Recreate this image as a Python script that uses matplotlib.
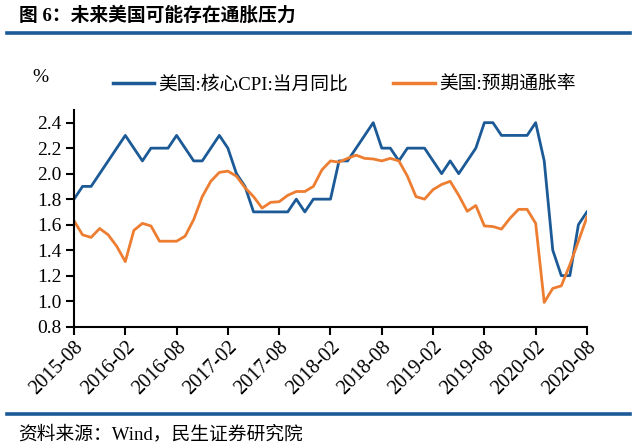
import matplotlib
matplotlib.use("Agg")
import matplotlib.pyplot as plt
from matplotlib.lines import Line2D
import pandas as pd

plt.rcParams['font.family'] = ['Liberation Serif', 'Noto Sans CJK SC', 'DejaVu Sans']

months = [p.strftime('%Y-%m') for p in pd.period_range('2015-08', '2020-08', freq='M')]

core_cpi = [1.8, 1.9, 1.9, 2.0, 2.1,
            2.2, 2.3, 2.2, 2.1, 2.2, 2.2, 2.2, 2.3, 2.2, 2.1, 2.1, 2.2,
            2.3, 2.2, 2.0, 1.9, 1.7, 1.7, 1.7, 1.7, 1.7, 1.8, 1.7, 1.8,
            1.8, 1.8, 2.1, 2.1, 2.2, 2.3, 2.4, 2.2, 2.2, 2.1, 2.2, 2.2,
            2.2, 2.1, 2.0, 2.1, 2.0, 2.1, 2.2, 2.4, 2.4, 2.3, 2.3, 2.3,
            2.3, 2.4, 2.1, 1.4, 1.2, 1.2, 1.6, 1.7]

expected_infl = [1.63, 1.52, 1.50, 1.57, 1.52, 1.43, 1.31, 1.555, 1.61, 1.59,
                 1.47, 1.47, 1.47, 1.51, 1.64, 1.82, 1.94, 2.01, 2.02, 1.98,
                 1.89, 1.82, 1.73, 1.775, 1.78, 1.83, 1.86, 1.86, 1.90, 2.03,
                 2.10, 2.09, 2.12, 2.145, 2.12, 2.115, 2.10, 2.12, 2.10, 1.98,
                 1.82, 1.80, 1.875, 1.915, 1.94, 1.83, 1.705, 1.75, 1.59, 1.585,
                 1.565, 1.65, 1.72, 1.72, 1.61, 0.99, 1.10, 1.12, 1.285, 1.47,
                 1.66]

series_names = ['美国:核心CPI:当月同比', '美国:预期通胀率']
tick_labels = months[::6]
y_ticks = [0.8, 1.0, 1.2, 1.4, 1.6, 1.8, 2.0, 2.2, 2.4]

BLUE = '#1B5A96'
ORANGE = '#ED7D31'
CJK = ['Liberation Serif', 'Noto Sans CJK SC']

fig = plt.figure(figsize=(6.38, 4.45), dpi=100)
ax = fig.add_axes([0.116, 0.266, 0.804, 0.487])

x = list(range(len(months)))
l1, = ax.plot(x, core_cpi, color=BLUE, lw=2.0)
l2, = ax.plot(x, expected_infl, color=ORANGE, lw=2.0)

ax.set_xlim(0, len(months) - 1)
ax.set_ylim(0.8, 2.5)
ax.set_yticks(y_ticks)
ax.set_yticklabels([f'{v:.1f}' for v in y_ticks])
ax.set_xticks(x[::6])
ax.set_xticklabels(tick_labels, rotation=45, ha='right', rotation_mode='anchor')

for s in ['top', 'right']:
    ax.spines[s].set_visible(False)
for s in ['left', 'bottom']:
    ax.spines[s].set_linewidth(1.5)
    ax.spines[s].set_color('black')
ax.tick_params(direction='out', length=6, width=1.5, labelsize=14, pad=3)
ax.tick_params(axis='x', labelsize=14.5, pad=2)

leg = fig.legend([l1, l2], series_names, loc='center left',
                 bbox_to_anchor=(0.150, 0.809), ncol=2, frameon=False,
                 handlelength=2.2, handletextpad=0.25, columnspacing=2.4,
                 prop={'family': CJK, 'size': 13.5})
for h in leg.legend_handles:
    h.set_linewidth(2.5)

fig.text(0.063, 0.825, '%', fontsize=14, ha='center', va='center')

fig.text(0.03, 0.965, '图 6：未来美国可能存在通胀压力', fontsize=13.5, fontweight='bold',
         ha='left', va='center', family=CJK)
fig.add_artist(Line2D([0.011, 0.987], [0.926, 0.926], transform=fig.transFigure,
                      color=BLUE, lw=2.6))
fig.add_artist(Line2D([0.011, 0.987], [0.070, 0.070], transform=fig.transFigure,
                      color=BLUE, lw=2.6))
fig.text(0.028, 0.025, '资料来源：Wind，民生证券研究院', fontsize=13.5,
         ha='left', va='center', family=CJK)

fig.savefig('out.png', dpi=100)
